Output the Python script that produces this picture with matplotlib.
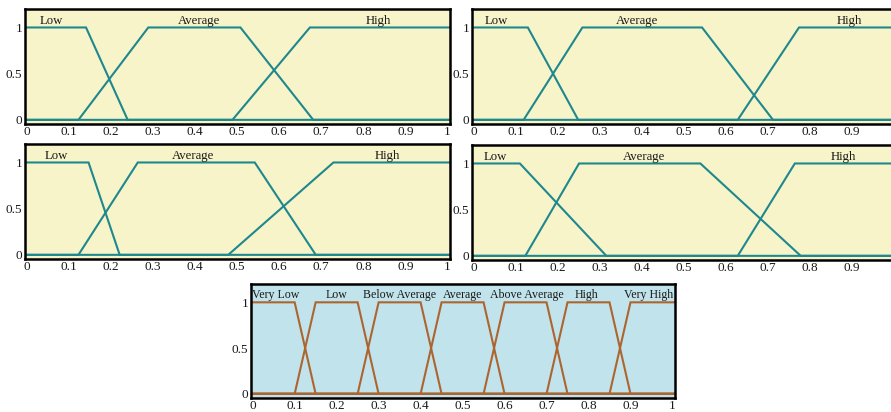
import matplotlib
matplotlib.use("Agg")
import matplotlib.pyplot as plt
import numpy as np

plt.rcParams['font.family'] = ['Liberation Serif', 'DejaVu Serif']

# ---- data: trapezoid breakpoints (a, b, c, d) per membership function ----
labels3 = ["Low", "Average", "High"]

p1_sets = [(0.0, 0.0, 0.141, 0.240), (0.123, 0.289, 0.508, 0.681), (0.489, 0.673, 1.0, 1.0)]
p2_sets = [(0.0, 0.0, 0.129, 0.249), (0.119, 0.259, 0.544, 0.713), (0.629, 0.775, 1.0, 1.0)]
p3_sets = [(0.0, 0.0, 0.147, 0.221), (0.123, 0.264, 0.542, 0.687), (0.479, 0.729, 1.0, 1.0)]
p4_sets = [(0.0, 0.0, 0.110, 0.316), (0.123, 0.251, 0.540, 0.779), (0.629, 0.765, 1.0, 1.0)]

p1_label_x = [0.059, 0.41, 0.835]
p2_label_x = [0.054, 0.39, 0.894]
p3_label_x = [0.07, 0.395, 0.857]
p4_label_x = [0.052, 0.406, 0.88]

labels7 = ["Very Low", "Low", "Below Average", "Average", "Above Average", "High", "Very High"]
p5_sets = [(0.0, 0.0, 0.10, 0.15), (0.10, 0.15, 0.25, 0.30), (0.25, 0.30, 0.40, 0.45),
           (0.40, 0.45, 0.55, 0.60), (0.55, 0.60, 0.70, 0.75), (0.70, 0.75, 0.85, 0.90),
           (0.85, 0.90, 1.0, 1.0)]
p5_label_x = [0.055, 0.20, 0.351, 0.499, 0.653, 0.796, 0.942]

x_ticks = [0, 0.1, 0.2, 0.3, 0.4, 0.5, 0.6, 0.7, 0.8, 0.9, 1]
x_tick_labels = ["0", "0.1", "0.2", "0.3", "0.4", "0.5", "0.6", "0.7", "0.8", "0.9", "1"]
y_ticks = [0, 0.5, 1]
y_tick_labels = ["0", "0.5", "1"]

YELLOW = "#F7F4C9"
TEAL = "#1F878E"
BLUE = "#C1E3EB"
BROWN = "#AD6530"

W, H = 891, 412
fig = plt.figure(figsize=(W / 100, H / 100), dpi=100)


def make_axes(left_px, top_px, right_px, bottom_px):
    return fig.add_axes([left_px / W, 1 - bottom_px / H,
                         (right_px - left_px) / W, (bottom_px - top_px) / H])


def draw_panel(ax, sets, names, label_x, bg, color, label_y=1.075,
               label_size=9.2, last_xlabel=True):
    ax.set_facecolor(bg)
    for (a, b, c, d) in sets:
        if a == b == 0:
            xs = [-0.01, c, d, 1.01]
            ys = [1, 1, 0, 0]
        elif c == d == 1:
            xs = [-0.01, a, b, 1.01]
            ys = [0, 0, 1, 1]
        else:
            xs = [-0.01, a, b, c, d, 1.01]
            ys = [0, 0, 1, 1, 0, 0]
        ax.plot(xs, ys, color=color, lw=1.5, solid_joinstyle='miter')
    for name, lx in zip(names, label_x):
        ax.text(lx, label_y, name, ha='center', va='center', fontsize=label_size,
                color='#1a1a1a')
    ax.set_xlim(-0.004, 1.006)
    ax.set_ylim(-0.045, 1.2)
    ticks = x_ticks if last_xlabel else x_ticks[:-1]
    tlabels = x_tick_labels if last_xlabel else x_tick_labels[:-1]
    ax.set_xticks(ticks)
    ax.set_xticklabels(tlabels)
    ax.set_yticks(y_ticks)
    ax.set_yticklabels(y_tick_labels)
    ax.tick_params(length=0, labelsize=9.5, pad=2, colors='#1a1a1a')
    ax.tick_params(axis='x', pad=1.5)
    for s in ax.spines.values():
        s.set_linewidth(1.8)
        s.set_color('black')


ax1 = make_axes(25, 9, 450, 124)
draw_panel(ax1, p1_sets, labels3, p1_label_x, YELLOW, TEAL)
ax2 = make_axes(472, 9, 896, 124)
draw_panel(ax2, p2_sets, labels3, p2_label_x, YELLOW, TEAL, last_xlabel=False)
ax3 = make_axes(25, 144, 450, 259)
draw_panel(ax3, p3_sets, labels3, p3_label_x, YELLOW, TEAL)
ax4 = make_axes(472, 145, 896, 260)
draw_panel(ax4, p4_sets, labels3, p4_label_x, YELLOW, TEAL, last_xlabel=False)
ax5 = make_axes(251, 284, 675, 398)
draw_panel(ax5, p5_sets, labels7, p5_label_x, BLUE, BROWN, label_y=1.08,
           label_size=8.6)

fig.savefig("out.png", dpi=100)
